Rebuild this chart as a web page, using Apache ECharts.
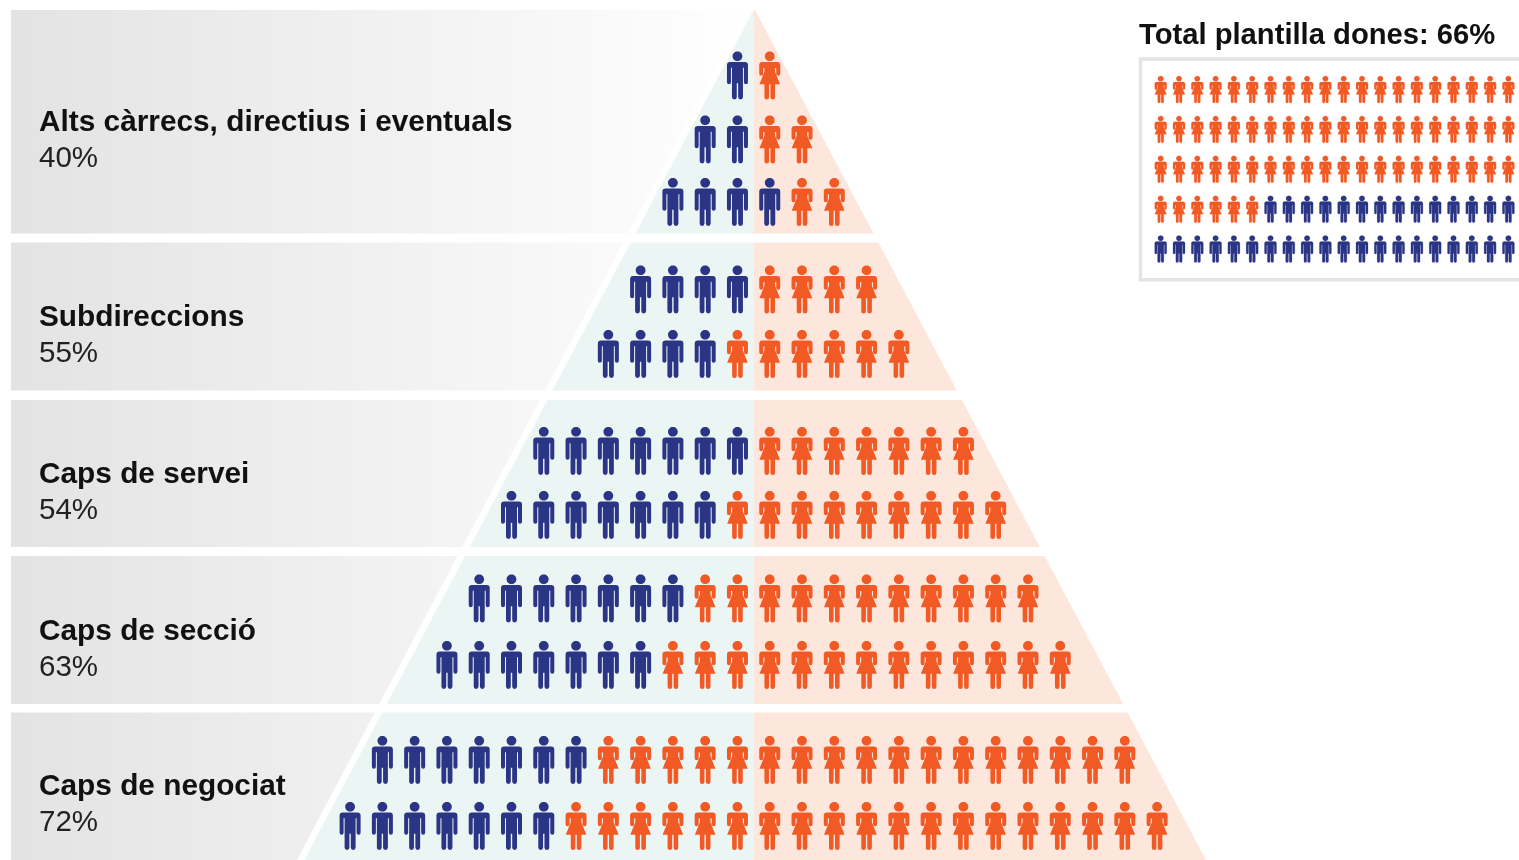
<!DOCTYPE html>
<html><head><meta charset="utf-8">
<style>html,body{margin:0;padding:0;background:#fff}#c{width:1519px;height:860px}</style>
<script src="https://cdn.jsdelivr.net/npm/echarts@6/dist/echarts.min.js"></script>
</head><body><div id="c"></div>
<script>
// --- data ---
const tierNames = ['Alts càrrecs, directius i eventuals','Subdireccions','Caps de servei','Caps de secció','Caps de negociat'];
const tierPct = [40,55,54,63,72];
const rowMen   = [1,2,4,4,4,7,7,7,7,7,7];
const rowWomen = [1,2,2,4,6,7,9,11,13,17,19];
const totalTitle = 'Total plantilla dones: 66%';
const totalWomen = 66;
const totalMen = 34;

// --- layout (pixel-scale axis positions, not data) ---
const W = 1519, H = 860;
const rowCentre = [75.5,139.5,202,289.5,354,451,515,598.5,665,760,826];
const tierBands = [[10,233.5],[242.5,390.5],[400,547],[556,704],[712.5,860]];
const labelY = [[123,159],[318,354],[475,511],[632,668],[787,823]];
const cx = 753.6, colPx = 32.28, apexY = 10, slopeL = 0.5285, slopeR = 0.5305;
const smallCols = 20, smallRows = 5, smColPx = 18.3, smRowPx = 39.9, smX0 = 1160.7, smY0 = 89.5;

const HEAD = 'M10.5 0C13.3 0 15.4 2.1 15.4 4.8C15.4 7.5 13.3 9.6 10.5 9.6C7.7 9.6 5.6 7.5 5.6 4.8C5.6 2.1 7.7 0 10.5 0Z';
const MAN = 'path://' + HEAD + 'M3 10.6H18Q21 10.6 21 13.6V31a2 2 0 0 1-4 0V16.5H16V46a2.4 2.4 0 0 1-4.8 0V32H9.8V46a2.4 2.4 0 0 1-4.8 0V16.5H4V31a2 2 0 0 1-4 0V13.6Q0 10.6 3 10.6Z';
const WOMAN = 'path://' + HEAD + 'M3 10.6H18Q21 10.6 21 13.6V22.5a2 2 0 0 1-4 0V16.5H15.8V20.5L20.8 33H15.8V46a2.3 2.3 0 0 1-4.6 0V33H9.8V46a2.3 2.3 0 0 1-4.6 0V33H0.2L5.2 20.5V16.5H4V22.5a2 2 0 0 1-4 0V13.6Q0 10.6 3 10.6Z';
const BLUE = '#2a3585', ORANGE = '#f15a24';

const menPts = [], womenPts = [];
rowMen.forEach((m, r) => {
  const w = rowWomen[r], n = m + w;
  for (let i = 0; i < n; i++) (i < m ? menPts : womenPts).push([i - (n - 1) / 2, rowCentre[r]]);
});
const smMen = [], smWomen = [];
for (let i = 0; i < totalWomen + totalMen; i++) {
  const p = [i % smallCols, Math.floor(i / smallCols)];
  (i < totalWomen ? smWomen : smMen).push(p);
}
const u = px => (px - cx) / colPx;
const grayFill = new echarts.graphic.LinearGradient(11, 0, 752, 0, [{offset:0,color:'#e3e3e3'},{offset:1,color:'#ffffff'}], true);

function bandRender(p, api) {
  const i = api.value(0), [t, b] = tierBands[i];
  const lx = y => -(y - apexY) * slopeL, rx = y => 1.4 + (y - apexY) * slopeR;
  const poly = (pts, style) => ({type:'polygon', shape:{points: pts.map(q => api.coord(q))}, style});
  return {type:'group', children:[
    poly([[u(11),t],[(lx(t)-7.5)/colPx,t],[(lx(b)-7.5)/colPx,b],[u(11),b]], {fill:grayFill}),
    poly([[lx(t)/colPx,t],[0,t],[0,b],[lx(b)/colPx,b]], {fill:'#ebf5f3'}),
    poly([[0,t],[rx(t)/colPx,t],[rx(b)/colPx,b],[0,b]], {fill:'#fde7dc'})
  ]};
}
function labelRender(p, api) {
  const i = api.value(0), x = api.coord([u(39), 0])[0];
  const yy = labelY[i];
  return {type:'group', children:[
    {type:'text', style:{text:tierNames[i], x, y:api.coord([0,yy[0]])[1], fill:'#111', font:'bold 29.8px "Liberation Sans", Arial', verticalAlign:'middle', align:'left'}},
    {type:'text', style:{text:tierPct[i]+'%', x, y:api.coord([0,yy[1]])[1], fill:'#222', font:'29.5px "Liberation Sans", Arial', verticalAlign:'middle', align:'left'}}
  ]};
}
const idx = tierNames.map((_, i) => [i, 0]);
const big = {type:'scatter', xAxisIndex:0, yAxisIndex:0, symbolSize:[21,48], z:3, silent:true};
const small = {type:'scatter', xAxisIndex:1, yAxisIndex:1, symbolSize:[12,27], z:3, silent:true};
const look = (c, b) => ({color:c, opacity:1, borderColor:c, borderWidth:b});

const chart = echarts.init(document.getElementById('c'), null, {renderer:'canvas'});
chart.setOption({
  animation:false, backgroundColor:'#fff',
  title:{text:totalTitle, left:1139, top:21, padding:0, textStyle:{fontFamily:'"Liberation Sans", Arial', fontWeight:'bold', fontSize:29.2, color:'#111'}},
  grid:[
    {left:0, top:0, width:W, height:H},
    {left:smX0 - smColPx/2, top:smY0 - smRowPx/2, width:smColPx*smallCols, height:smRowPx*smallRows}
  ],
  xAxis:[
    {type:'value', gridIndex:0, min:u(0), max:u(W), show:false},
    {type:'value', gridIndex:1, min:-0.5, max:smallCols-0.5, show:false}
  ],
  yAxis:[
    {type:'value', gridIndex:0, min:0, max:H, inverse:true, show:false},
    {type:'value', gridIndex:1, min:-0.5, max:smallRows-0.5, inverse:true, show:false}
  ],
  graphic:[{type:'rect', z:0, shape:{x:1140.5,y:59,width:420,height:220.7}, style:{fill:'#fff',stroke:'#e4e4e4',lineWidth:3.5}}],
  series:[
    {type:'custom', xAxisIndex:0, yAxisIndex:0, data:idx, renderItem:bandRender, z:1, silent:true, clip:false},
    {type:'custom', xAxisIndex:0, yAxisIndex:0, data:idx, renderItem:labelRender, z:4, silent:true, clip:false},
    Object.assign({name:'Homes', data:menPts, symbol:MAN, itemStyle:look(BLUE,0)}, big),
    Object.assign({name:'Dones', data:womenPts, symbol:WOMAN, itemStyle:look(ORANGE,0)}, big),
    Object.assign({name:'Homes total', data:smMen, symbol:MAN, itemStyle:look(BLUE,0.2)}, small),
    Object.assign({name:'Dones total', data:smWomen, symbol:WOMAN, itemStyle:look(ORANGE,0.2)}, small)
  ]
});
</script></body></html>
